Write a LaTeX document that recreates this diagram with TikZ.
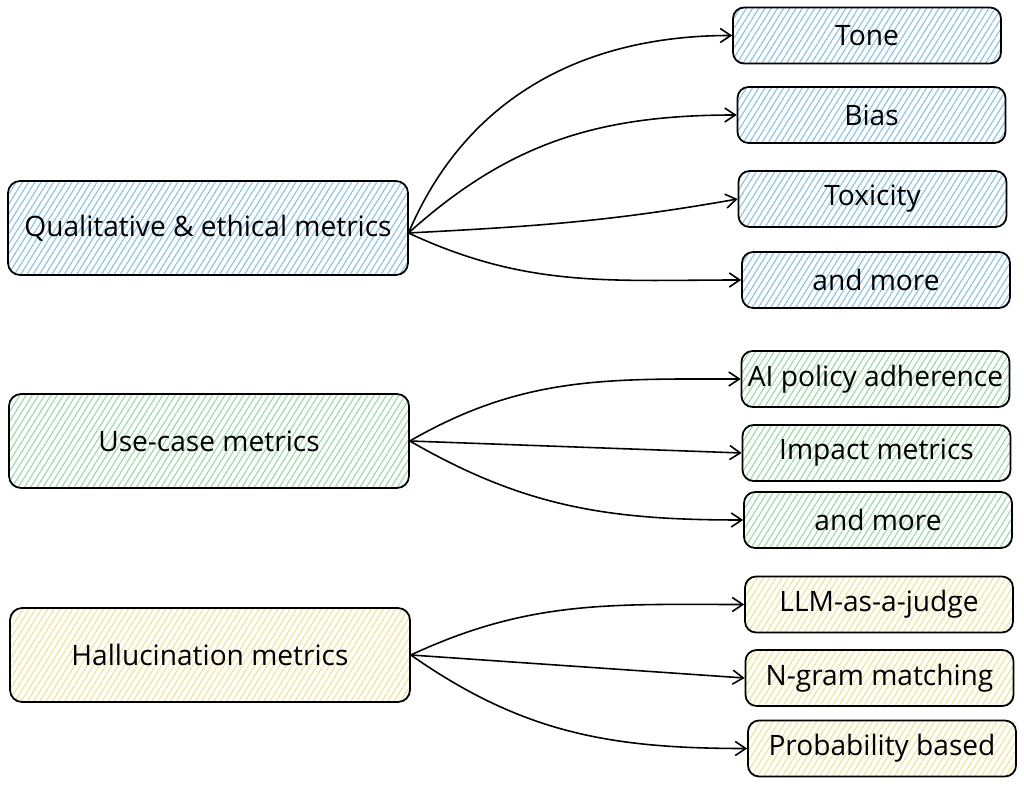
\documentclass[tikz,border=0pt]{standalone}
\usepackage{fontspec}
\setmainfont{Open Sans}
\usepackage{tikz}
\usetikzlibrary{arrows.meta,patterns.meta}

\definecolor{hatchblue}{HTML}{7FC0F3}
\definecolor{hatchgreen}{HTML}{8FDC9B}
\definecolor{hatchyellow}{HTML}{F6E08A}

\begin{document}
\begin{tikzpicture}[x=0.02cm,y=0.02cm,
		mainbox/.style={draw,line width=1pt,rounded corners=0.24cm,minimum width=8cm,minimum height=1.88cm,font=\fontsize{16}{19}\selectfont},
		leafbox/.style={draw,line width=1pt,rounded corners=0.22cm,minimum width=5.36cm,minimum height=1.12cm,font=\fontsize{16}{19}\selectfont},
		bluefill/.style={pattern={Lines[angle=58,distance=3pt,line width=0.6pt]},pattern color=hatchblue},
		greenfill/.style={pattern={Lines[angle=58,distance=3pt,line width=0.6pt]},pattern color=hatchgreen},
		yellowfill/.style={pattern={Lines[angle=58,distance=3pt,line width=0.6pt]},pattern color=hatchyellow},
		link/.style={-{Straight Barb[length=6pt,width=8pt]},line width=0.9pt}]
		\useasboundingbox (0,0) rectangle (1024,785);
		% main groups
		\node [mainbox,bluefill] (qual) at (208,557) {Qualitative \& ethical metrics};
		\node [mainbox,greenfill] (usecase) at (209,344) {Use-case metrics};
		\node [mainbox,yellowfill] (halluc) at (210,130) {Hallucination metrics};
		% leaves
		\node [leafbox,bluefill] (tone) at (867,749.5) {Tone};
		\node [leafbox,bluefill] (bias) at (871.5,670) {Bias};
		\node [leafbox,bluefill] (toxic) at (872.5,586) {Toxicity};
		\node [leafbox,bluefill] (moreA) at (876,505) {and more};
		\node [leafbox,greenfill] (policy) at (875.5,406) {AI policy adherence};
		\node [leafbox,greenfill] (impact) at (876.5,332) {Impact metrics};
		\node [leafbox,greenfill] (moreB) at (878,265) {and more};
		\node [leafbox,yellowfill] (judge) at (879,180.5) {LLM-as-a-judge};
		\node [leafbox,yellowfill] (ngram) at (879.5,107) {N-gram matching};
		\node [leafbox,yellowfill] (prob) at (882,36.5) {Probability based};
		% arrows
		\draw [link] ([yshift=-0.1cm]qual.east) to [out=67,in=180] (tone.west);
		\draw [link] ([yshift=-0.1cm]qual.east) to [out=42,in=180] (bias.west);
		\draw [link] ([yshift=-0.1cm]qual.east) to [out=3,in=190] (toxic.west);
		\draw [link] ([yshift=-0.1cm]qual.east) to [out=-25,in=180] (moreA.west);
		\draw [link] (usecase.east) to [out=30,in=180] (policy.west);
		\draw [link] (usecase.east) -- (impact.west);
		\draw [link] (usecase.east) to [out=-30,in=180] (moreB.west);
		\draw [link] (halluc.east) to [out=25,in=180] (judge.west);
		\draw [link] (halluc.east) -- (ngram.west);
		\draw [link] (halluc.east) to [out=-35,in=180] (prob.west);
\end{tikzpicture}
\end{document}
